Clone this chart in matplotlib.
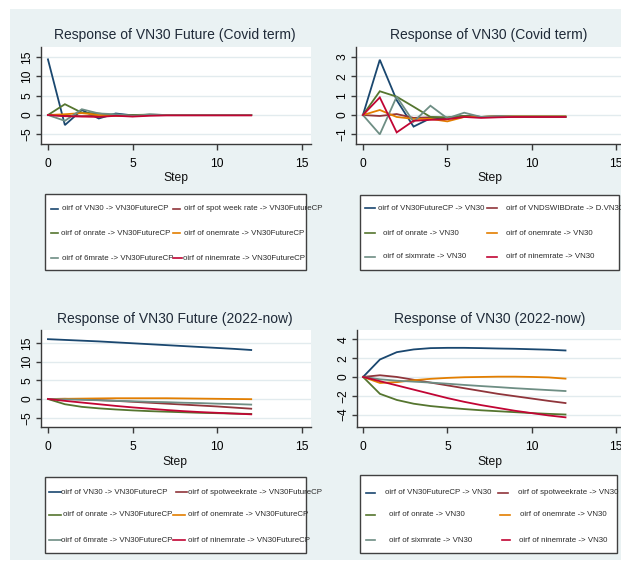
import matplotlib
matplotlib.use("Agg")
import matplotlib.pyplot as plt
import matplotlib.font_manager as fm
from matplotlib.patches import Rectangle
from matplotlib.lines import Line2D
from matplotlib.transforms import Bbox

# ============================================================
# Data
# ============================================================
steps = list(range(13))

# Response of VN30 Future (Covid term)
fc_vn30 = [14.4, -2.6, 1.3, -0.9, 0.4, -0.1, 0.1, 0.0, 0.0, 0.0, 0.0, 0.0, 0.0]
fc_spot = [0.0, -0.2, -0.3, -0.2, -0.1, -0.1, 0.0, 0.0, 0.0, 0.0, 0.0, 0.0, 0.0]
fc_on = [0.0, 2.8, 0.6, 0.4, -0.2, 0.0, 0.1, 0.0, 0.0, 0.0, 0.0, 0.0, 0.0]
fc_onem = [0.0, 0.2, 0.5, 0.0, -0.2, -0.3, 0.0, 0.0, 0.0, 0.0, 0.0, 0.0, 0.0]
fc_6m = [0.0, -1.5, 1.5, 0.4, 0.2, -0.2, 0.1, 0.0, 0.0, 0.0, 0.0, 0.0, 0.0]
fc_9m = [0.0, -0.3, -0.4, -0.5, -0.2, -0.4, -0.2, -0.1, -0.1, -0.1, -0.1, -0.1, -0.1]

# Response of VN30 (Covid term)
vc_fut = [0.0, 2.86, 0.77, -0.6, -0.17, -0.17, -0.05, -0.1, -0.08, -0.1, -0.1, -0.1, -0.1]
vc_swib = [0.0, -0.05, 0.05, -0.15, -0.12, -0.15, -0.05, -0.1, -0.1, -0.1, -0.1, -0.1, -0.1]
vc_on = [0.0, 1.23, 0.95, 0.43, -0.1, -0.12, -0.05, -0.1, -0.07, -0.07, -0.07, -0.07, -0.07]
vc_onem = [0.0, 0.26, -0.1, -0.2, -0.2, -0.33, -0.1, -0.1, -0.05, -0.07, -0.07, -0.07, -0.07]
vc_6m = [0.0, -1.0, 0.95, -0.35, 0.48, -0.17, 0.12, -0.1, -0.05, -0.08, -0.08, -0.08, -0.08]
vc_9m = [0.0, 0.91, -0.9, -0.3, -0.25, -0.22, -0.1, -0.15, -0.12, -0.1, -0.1, -0.1, -0.1]

# Response of VN30 Future (2022-now)
fn_vn30 = [16.0, 15.8, 15.6, 15.4, 15.15, 14.9, 14.65, 14.4, 14.15, 13.9, 13.65, 13.4, 13.1]
fn_spot = [0.0, 0.05, -0.1, -0.3, -0.5, -0.75, -1.0, -1.25, -1.5, -1.75, -2.0, -2.3, -2.6]
fn_on = [0.0, -1.4, -2.1, -2.5, -2.8, -3.05, -3.25, -3.4, -3.55, -3.7, -3.8, -3.9, -4.0]
fn_onem = [0.0, 0.05, 0.1, 0.15, 0.2, 0.2, 0.2, 0.2, 0.15, 0.1, 0.05, 0.0, -0.05]
fn_6m = [0.0, -0.1, -0.2, -0.35, -0.5, -0.6, -0.75, -0.85, -1.0, -1.1, -1.25, -1.35, -1.5]
fn_9m = [0.0, -0.5, -0.95, -1.4, -1.85, -2.25, -2.6, -2.95, -3.25, -3.5, -3.7, -3.9, -4.1]

# Response of VN30 (2022-now)
vn_fut = [0.0, 1.86, 2.64, 2.93, 3.07, 3.1, 3.1, 3.07, 3.03, 3.0, 2.95, 2.9, 2.82]
vn_spot = [0.0, 0.18, 0.0, -0.3, -0.6, -0.9, -1.2, -1.5, -1.8, -2.05, -2.3, -2.55, -2.78]
vn_on = [0.0, -1.8, -2.45, -2.85, -3.1, -3.27, -3.42, -3.55, -3.65, -3.75, -3.85, -3.93, -4.0]
vn_onem = [0.0, -0.64, -0.55, -0.35, -0.2, -0.1, -0.03, 0.0, 0.03, 0.03, 0.0, -0.05, -0.18]
vn_6m = [0.0, -0.25, -0.4, -0.5, -0.6, -0.72, -0.85, -0.97, -1.08, -1.2, -1.3, -1.4, -1.5]
vn_9m = [0.0, -0.45, -0.9, -1.35, -1.8, -2.25, -2.65, -3.0, -3.3, -3.6, -3.85, -4.1, -4.3]

titles = ["Response of VN30 Future (Covid term)", "Response of VN30 (Covid term)",
          "Response of VN30 Future (2022-now)", "Response of VN30 (2022-now)"]

labels_fc = ["oirf of VN30 -> VN30FutureCP", "oirf of spot week rate -> VN30FutureCP",
             "oirf of onrate -> VN30FutureCP", "oirf of onemrate -> VN30FutureCP",
             "oirf of 6mrate -> VN30FutureCP", "oirf of ninemrate -> VN30FutureCP"]
labels_vc = ["oirf of VN30FutureCP -> VN30", "oirf of VNDSWIBDrate -> D.VN30",
             "oirf of onrate -> VN30", "oirf of onemrate -> VN30",
             "oirf of sixmrate -> VN30", "oirf of ninemrate -> VN30"]
labels_fn = ["oirf of VN30 -> VN30FutureCP", "oirf of spotweekrate -> VN30FutureCP",
             "oirf of onrate -> VN30FutureCP", "oirf of onemrate -> VN30FutureCP",
             "oirf of 6mrate -> VN30FutureCP", "oirf of ninemrate -> VN30FutureCP"]
labels_vn = ["oirf of VN30FutureCP -> VN30", "oirf of spotweekrate -> VN30",
             "oirf of onrate -> VN30", "oirf of onemrate -> VN30",
             "oirf of sixmrate -> VN30", "oirf of ninemrate -> VN30"]

# Stata s2color series colours
colors = ["#1a476f", "#90353b", "#55752f", "#e37e00", "#6e8e84", "#c10534"]

# ============================================================
# Fonts (Stata look: narrow Arial)
# ============================================================
try:
    fm.findfont("Liberation Sans Narrow", fallback_to_default=False)
    FONT, K = "Liberation Sans Narrow", 1.0
except ValueError:
    FONT, K = "Liberation Sans", 0.82
plt.rcParams["font.family"] = FONT

W, H = 621, 565
BG = "#EAF2F3"
fig = plt.figure(figsize=(W / 100, H / 100), dpi=100, facecolor="white")
fig.patches.append(Rectangle((10 / W, 1 - 560 / H), (W - 10) / W, (560 - 9) / H,
                             transform=fig.transFigure, facecolor=BG, edgecolor="none", zorder=-5))


def px(x, y):
    return x / W, 1 - y / H


def panel(box, series, ylim, yticks, xlim, title, tpos, spos, clip_right=None):
    l, t, r, b = box
    ax = fig.add_axes([l / W, 1 - b / H, (r - l) / W, (b - t) / H])
    ax.set_facecolor("white")
    for s, c in zip(series, colors):
        ax.plot(steps, s, color=c, lw=1.3, solid_joinstyle="miter")
    ax.set_xlim(*xlim)
    ax.set_ylim(*ylim)
    ax.set_xticks([0, 5, 10, 15])
    ax.set_yticks(yticks)
    ax.yaxis.grid(True, color="#E2EBEE", lw=1.0)
    ax.set_axisbelow(True)
    for sp in ["top", "right"]:
        ax.spines[sp].set_visible(False)
    for sp in ["left", "bottom"]:
        ax.spines[sp].set_color("#3a3a3a")
        ax.spines[sp].set_linewidth(1.0)
    ax.tick_params(axis="x", length=4, width=1, color="#3a3a3a", pad=6, labelsize=10.5 * K)
    ax.tick_params(axis="y", length=3.5, width=1, color="#3a3a3a", pad=2, labelsize=10.5 * K,
                   labelrotation=90)
    for lbl in ax.get_yticklabels():
        lbl.set_va("center")
    if clip_right is not None:
        cb = Bbox.from_extents(0, 0, clip_right, H)
        for lbl in ax.get_xticklabels():
            lbl.set_clip_box(cb)
            lbl.set_clip_on(True)
    fig.text(*px(*tpos), title, ha="center", va="center", fontsize=12.2 * K, color="#1f2a38")
    fig.text(*px(*spos), "Step", ha="center", va="center", fontsize=10.7 * K, color="#111111")
    return ax


def legend(box, entries, labels):
    l, t, r, b = box
    fig.patches.append(Rectangle(px(l, b), (r - l) / W, (b - t) / H, transform=fig.transFigure,
                                 facecolor="white", edgecolor="#404040", lw=1.0, zorder=2))
    for (k0, k1, tx, y), lab, c in zip(entries, labels, colors):
        fig.lines.append(Line2D([k0 / W, k1 / W], [1 - y / H, 1 - y / H], transform=fig.transFigure,
                                color=c, lw=1.2, zorder=3))
        fig.text(*px(tx, y), lab, ha="left", va="center", fontsize=6.9 * K, color="#2b2b2b", zorder=4)


# ============================================================
# Panels
# ============================================================
panel((41, 47, 311, 144), [fc_vn30, fc_spot, fc_on, fc_onem, fc_6m, fc_9m],
      (-7.5, 17.6), [-5, 0, 5, 10, 15], (-0.41, 15.53), titles[0], (175, 35), (176, 178), clip_right=311)
panel((356, 47, 621, 144), [vc_fut, vc_swib, vc_on, vc_onem, vc_6m, vc_9m],
      (-1.5, 3.52), [-1, 0, 1, 2, 3], (-0.41, 15.29), titles[1], (489, 35), (490, 178))
panel((41, 330, 311, 427), [fn_vn30, fn_spot, fn_on, fn_onem, fn_6m, fn_9m],
      (-7.49, 18.45), [-5, 0, 5, 10, 15], (-0.41, 15.53), titles[2], (175, 319), (175, 462), clip_right=311)
panel((357, 330, 621, 427), [vn_fut, vn_spot, vn_on, vn_onem, vn_6m, vn_9m],
      (-5.33, 5.0), [-4, -2, 0, 2, 4], (-0.36, 15.29), titles[3], (490, 319), (490, 462))

# ============================================================
# Legends (key x0, key x1, text x, row y) in pixels
# ============================================================
legend((45, 194, 306, 270),
       [(51, 58, 62, 209), (173, 180, 184, 209), (51, 58, 61, 233),
        (173, 180, 184, 233), (51, 58, 62, 258), (173, 182, 183, 258)], labels_fc)
legend((360, 195, 619, 270),
       [(365, 375, 378, 208), (487, 497, 506, 208), (365, 375, 383, 233),
        (487, 497, 506, 233), (365, 375, 383, 257), (487, 497, 506, 257)], labels_vc)
legend((45, 477, 306, 553),
       [(49, 61, 61, 492), (176, 187, 188, 492), (49, 61, 63, 515),
        (173, 185, 188, 515), (49, 61, 61, 540), (173, 185, 188, 540)], labels_fn)
legend((360, 475, 617, 553),
       [(366, 375, 385, 493), (498, 508, 518, 493), (366, 375, 389, 515),
        (500, 510, 520, 515), (366, 375, 389, 540), (502, 510, 519, 540)], labels_vn)

fig.savefig("out.png", dpi=100, facecolor="white")
print("font:", FONT)
